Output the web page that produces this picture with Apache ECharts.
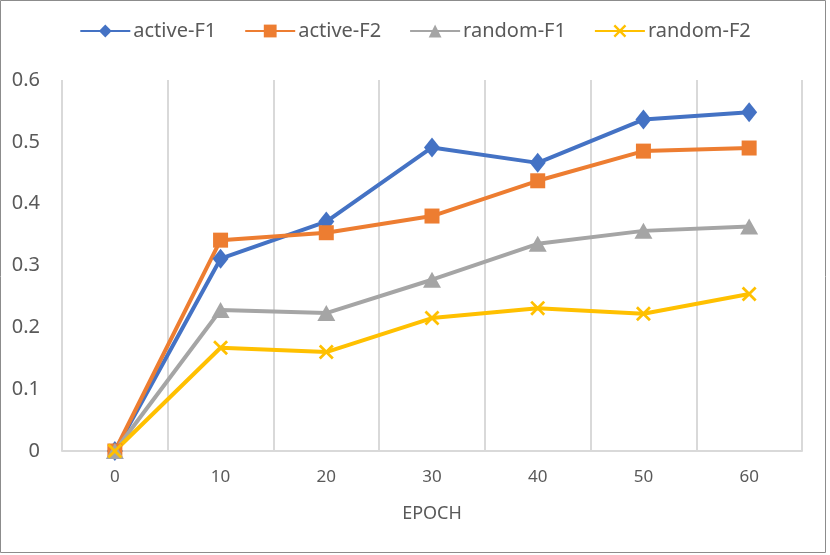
<!DOCTYPE html>
<html>
<head>
<meta charset="utf-8">
<script src="https://cdn.jsdelivr.net/npm/echarts@6/dist/echarts.min.js"></script>
<style>
html,body{margin:0;padding:0;background:#fff;}
#main{width:830px;height:555px;}
</style>
</head>
<body>
<div id="main"></div>
<script>
var categories = ['0', '10', '20', '30', '40', '50', '60'];
var activeF1 = [0, 0.311, 0.371, 0.491, 0.466, 0.536, 0.548];
var activeF2 = [0, 0.341, 0.353, 0.380, 0.437, 0.485, 0.490];
var randomF1 = [0, 0.228, 0.223, 0.277, 0.335, 0.356, 0.363];
var randomF2 = [0, 0.167, 0.160, 0.215, 0.231, 0.222, 0.254];
var seriesNames = ['active-F1', 'active-F2', 'random-F1', 'random-F2'];

var crossPath = 'path://M0,1.3 L1.3,0 L5,3.7 L8.7,0 L10,1.3 L6.3,5 L10,8.7 L8.7,10 L5,6.3 L1.3,10 L0,8.7 L3.7,5 Z';
var FONT = 'Noto Sans';

function mk(name, data, color, symbol, size) {
  return {
    name: name,
    type: 'line',
    data: data,
    symbol: symbol,
    symbolSize: size,
    showAllSymbol: true,
    lineStyle: { color: color, width: 4 },
    itemStyle: { color: color },
    emphasis: { disabled: true }
  };
}

var chart = echarts.init(document.getElementById('main'));
chart.setOption({
  animation: false,
  backgroundColor: '#fff',
  textStyle: { fontFamily: FONT },
  graphic: [{
    type: 'rect',
    shape: { x: 0.5, y: 0.5, width: 825, height: 552 },
    style: { fill: 'none', stroke: '#8c8c8c', lineWidth: 1 },
    silent: true
  }],
  legend: {
    top: 16,
    left: 'center',
    itemWidth: 50,
    itemHeight: 16,
    itemGap: 28,
    textStyle: { fontSize: 20, color: '#595959', fontFamily: FONT, padding: [0, 0, 0, -2] },
    data: seriesNames
  },
  grid: { left: 62, right: 28, top: 80, bottom: 104, containLabel: false },
  xAxis: {
    type: 'category',
    data: categories,
    boundaryGap: true,
    name: 'EPOCH',
    nameLocation: 'middle',
    nameGap: 54,
    nameTextStyle: { fontSize: 18, color: '#595959', fontFamily: FONT },
    axisLine: { show: true, lineStyle: { color: '#d9d9d9', width: 2 } },
    axisTick: { show: false },
    axisLabel: { fontSize: 17, color: '#595959', margin: 18, fontFamily: FONT },
    splitLine: { show: true, interval: 0, lineStyle: { color: '#d9d9d9', width: 2 } }
  },
  yAxis: {
    type: 'value',
    min: 0,
    max: 0.6,
    interval: 0.1,
    axisLine: { show: false },
    axisTick: { show: false },
    splitLine: { show: false },
    axisLabel: { fontSize: 20, color: '#595959', margin: 22, fontFamily: FONT }
  },
  series: [
    mk(seriesNames[0], activeF1, '#4472C4', 'diamond', [16, 20]),
    mk(seriesNames[1], activeF2, '#ED7D31', 'rect', 15),
    mk(seriesNames[2], randomF1, '#A5A5A5', 'triangle', [18, 16]),
    mk(seriesNames[3], randomF2, '#FFC000', crossPath, 15)
  ]
});
</script>
</body>
</html>
